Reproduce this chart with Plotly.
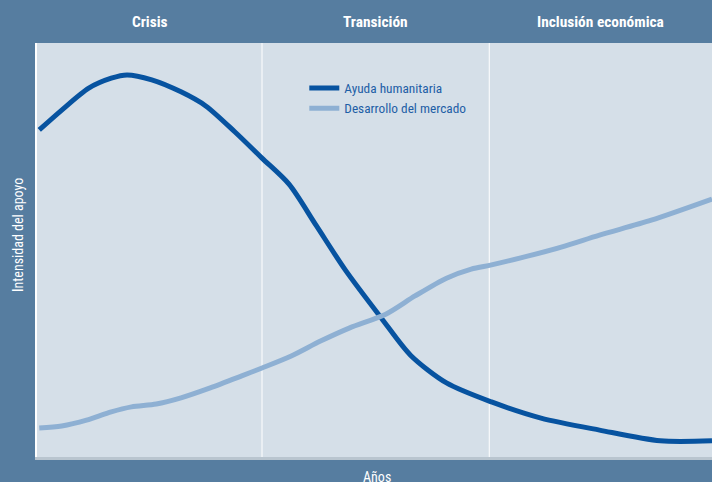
import plotly.graph_objects as go

# Data (years on x axis, support intensity 0-100 on y axis)
x_ayuda = [0.1, 1.1, 2.3, 3.3, 4.0, 5.1, 6.4, 7.5, 8.8, 10.0, 11.2, 12.4, 13.7, 15.3, 16.6, 18.2, 20.2, 22.4, 25.0, 27.7, 30.0]
y_ayuda = [79.0, 83.8, 89.1, 91.5, 92.3, 91.1, 88.2, 84.8, 78.5, 72.2, 65.9, 56.0, 45.2, 33.6, 24.6, 17.9, 13.3, 9.4, 6.5, 3.9, 3.9]

x_mercado = [0.1, 1.1, 2.2, 3.3, 4.2, 5.3, 6.4, 7.7, 9.1, 10.0, 11.3, 12.6, 13.9, 15.5, 16.8, 18.2, 19.3, 20.2, 21.5, 23.3, 25.0, 27.3, 30.0]
y_mercado = [7.0, 7.5, 8.9, 10.9, 12.1, 12.8, 14.3, 16.7, 19.6, 21.5, 24.4, 28.0, 31.2, 34.5, 38.9, 43.2, 45.4, 46.4, 48.1, 50.7, 53.6, 57.2, 62.3]

fases = ["Crisis", "Transición", "Inclusión económica"]
fase_centros = [5, 15.05, 25.05]
fase_limites = [10.0, 20.1]

FONT = "Roboto Condensed, Liberation Sans Narrow, sans-serif"
BG = "#567DA0"
PLOT_BG = "#D5DFE8"

fig = go.Figure()
fig.add_trace(go.Scatter(
    x=x_ayuda, y=y_ayuda, mode="lines", name="Ayuda humanitaria",
    line=dict(color="#0753A0", width=5, shape="spline", smoothing=0.8),
))
fig.add_trace(go.Scatter(
    x=x_mercado, y=y_mercado, mode="lines", name="Desarrollo del mercado",
    line=dict(color="#8EB0D3", width=5, shape="spline", smoothing=0.8),
))

for b in fase_limites:
    fig.add_shape(type="line", xref="x", yref="paper", x0=b, x1=b, y0=0, y1=1,
                  line=dict(color="white", width=1), layer="below")

for name, c in zip(fases, fase_centros):
    fig.add_annotation(x=c, xref="x", y=1, yref="paper", yshift=21, text="<b>%s</b>" % name,
                       showarrow=False, font=dict(family=FONT, size=15.4, color="white"),
                       yanchor="middle")

fig.add_annotation(x=15.1, xref="x", y=0, yref="paper", yshift=-20, text="Años",
                   showarrow=False, font=dict(family=FONT, size=14, color="white"), yanchor="middle")
fig.add_annotation(x=0, xref="paper", xshift=-19, y=0.536, yref="paper", text="Intensidad del apoyo",
                   textangle=-90, showarrow=False, font=dict(family=FONT, size=14, color="white"),
                   xanchor="center", yanchor="middle")

fig.update_layout(
    width=712, height=482,
    margin=dict(l=37, r=0, t=43, b=25),
    paper_bgcolor=BG, plot_bgcolor=PLOT_BG,
    font=dict(family=FONT),
    showlegend=True,
    legend=dict(x=0.396, y=0.928, xanchor="left", yanchor="top", bgcolor="rgba(0,0,0,0)",
                font=dict(family=FONT, size=13.3, color="#1E5EA6"), itemwidth=30,
                tracegroupgap=0),
    xaxis=dict(range=[0, 30], showgrid=False, zeroline=False, showticklabels=False, ticks="",
               showline=True, linecolor="#B9C5CF", linewidth=3, fixedrange=True),
    yaxis=dict(range=[0, 100], showgrid=False, zeroline=False, showticklabels=False, ticks="",
               showline=True, linecolor="white", linewidth=1.5, fixedrange=True),
)

fig.write_html("out.html", config={"displayModeBar": False},
               post_script="document.body.style.margin='0';")
